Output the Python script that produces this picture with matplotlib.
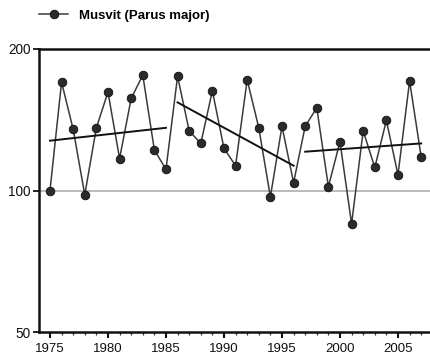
import matplotlib
matplotlib.use("Agg")
import matplotlib.pyplot as plt
from matplotlib.ticker import FixedLocator, NullLocator, NullFormatter

plt.rcParams['font.family'] = ['Liberation Sans', 'DejaVu Sans']

# Annual index of the great tit population
years = list(range(1975, 2008))
index = [100, 170, 135, 98, 136, 162, 117, 157, 176, 122, 111,
         175, 134, 126, 163, 123, 113, 172, 136, 97, 137, 104,
         137, 150, 102, 127, 85, 134, 112, 141, 108, 171, 118]

# Trend lines per period: (start year, end year, start value, end value)
trend_start_years = [1975, 1986, 1997]
trend_end_years = [1985, 1996, 2007]
trend_start_vals = [127.7, 154, 121]
trend_end_vals = [136, 113, 126]

series_label = "Musvit (Parus major)"
y_ticks = [50, 100, 200]
x_ticks = [1975, 1980, 1985, 1990, 1995, 2000, 2005]

fig = plt.figure(figsize=(4.3, 3.6), dpi=100)
ax = fig.add_axes([39.3 / 430, 1 - 332.3 / 360, 1 - 39.3 / 430, (332.3 - 49) / 360])

ax.set_yscale('log')
ax.set_ylim(50, 200)
ax.set_xlim(1974.08, 2007.76)

# Reference level
ax.axhline(100, color='#b4b4b4', lw=1.3, zorder=1)

# Series
line, = ax.plot(years, index, color='#3a3a3a', lw=1.1, marker='o', ms=6.2,
                mfc='#2b2b2b', mec='#111111', mew=0.6, label=series_label,
                zorder=3, clip_on=False)

# Trend lines
for x0, x1, v0, v1 in zip(trend_start_years, trend_end_years,
                          trend_start_vals, trend_end_vals):
    ax.plot([x0, x1], [v0, v1], color='#111111', lw=1.4, zorder=4)

# Axes styling
ax.spines['right'].set_visible(False)
for side in ('left', 'bottom', 'top'):
    ax.spines[side].set_linewidth(1.8)
    ax.spines[side].set_color('#111111')

ax.yaxis.set_major_locator(FixedLocator(y_ticks))
ax.yaxis.set_minor_locator(NullLocator())
ax.yaxis.set_minor_formatter(NullFormatter())
ax.set_yticklabels([str(v) for v in y_ticks])
ax.xaxis.set_major_locator(FixedLocator(x_ticks))
ax.xaxis.set_minor_locator(FixedLocator(years))
ax.set_xticklabels([str(v) for v in x_ticks])

ax.tick_params(axis='x', which='major', direction='out', length=4, width=1.5,
               color='#111111', labelsize=9.5, pad=4, labelcolor='#111111')
ax.tick_params(axis='x', which='minor', direction='out', length=2.2, width=0.9,
               color='#333333')
ax.tick_params(axis='y', which='major', direction='out', length=4.3, width=1.3,
               color='#111111', labelsize=9.8, pad=2, labelcolor='#111111')

leg = ax.legend(handles=[line], loc='center left',
                bbox_to_anchor=(39 / 430, 1 - 16 / 360),
                bbox_transform=fig.transFigure, frameon=False,
                borderpad=0, borderaxespad=0, handlelength=2.2,
                handletextpad=0.8, prop={'weight': 'bold', 'size': 9.5})

fig.savefig('out.png', dpi=100)
